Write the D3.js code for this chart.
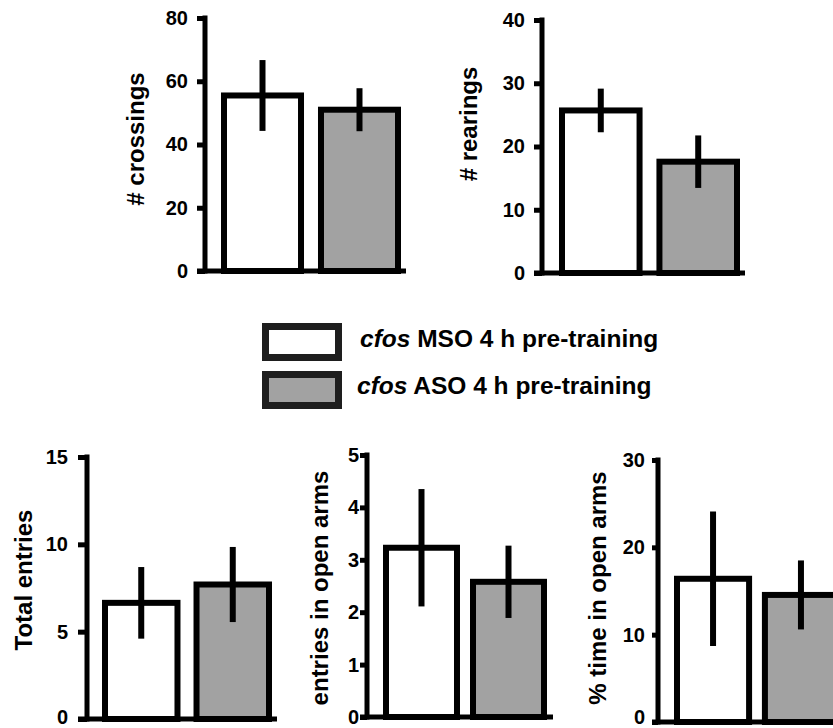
<!DOCTYPE html>
<html>
<head>
<meta charset="utf-8">
<script src="https://cdn.jsdelivr.net/npm/d3@7"></script>
<style>
  html, body { margin: 0; padding: 0; background: #fff; }
  svg { display: block; }
  text { font-family: "Liberation Sans", Arial, Helvetica, sans-serif; font-weight: bold; fill: #000; }
</style>
</head>
<body>
<svg id="chart" width="833" height="728"></svg>
<script>
// ---------------- data ----------------
const groups = ["cfos MSO 4 h pre-training", "cfos ASO 4 h pre-training"];
const groupPrefix = ["cfos", "cfos"];
const groupRest = [" MSO 4 h pre-training", " ASO 4 h pre-training"];
const groupFill = ["#ffffff", "#a2a2a2"];

const crossingsMean = [55.5, 51.0];
const crossingsSem  = [11.2, 6.8];
const crossingsTicks = [0, 20, 40, 60, 80];

const rearingsMean = [25.7, 17.6];
const rearingsSem  = [3.45, 4.15];
const rearingsTicks = [0, 10, 20, 30, 40];

const totalEntriesMean = [6.65, 7.7];
const totalEntriesSem  = [2.05, 2.15];
const totalEntriesTicks = [0, 5, 10, 15];

const openEntriesMean = [3.23, 2.58];
const openEntriesSem  = [1.12, 0.69];
const openEntriesTicks = [0, 1, 2, 3, 4, 5];

const openTimeMean = [16.4, 14.55];
const openTimeSem  = [7.7, 3.95];
const openTimeTicks = [0, 10, 20, 30];

// ---------------- layout ----------------
const panels = [
  { mean: crossingsMean, sem: crossingsSem, ticks: crossingsTicks, label: "# crossings",
    axisX: 205, y0: 271, yTop: 18, barRange: [224, 398], pad: 0.206, xEnd: 406,
    labelPos: [136, 139], tickOff: 17, tickLen: 8, bottom: false },
  { mean: rearingsMean, sem: rearingsSem, ticks: rearingsTicks, label: "# rearings",
    axisX: 542, y0: 273, yTop: 20, barRange: [562, 737], pad: 0.204, xEnd: 745,
    labelPos: [469, 124], tickOff: 17, tickLen: 8, bottom: false },
  { mean: totalEntriesMean, sem: totalEntriesSem, ticks: totalEntriesTicks, label: "Total entries",
    axisX: 87, y0: 719, yTop: 457, barRange: [105, 269], pad: 0.208, xEnd: 277,
    labelPos: [24, 580], tickOff: 19, tickLen: 9, bottom: true },
  { mean: openEntriesMean, sem: openEntriesSem, ticks: openEntriesTicks, label: "entries in open arms",
    axisX: 367, y0: 717, yTop: 455, barRange: [386, 544], pad: 0.184, xEnd: 553,
    labelPos: [320, 588], tickOff: 8, tickLen: 7, bottom: true },
  { mean: openTimeMean, sem: openTimeSem, ticks: openTimeTicks, label: "% time in open arms",
    axisX: 658, y0: 722, yTop: 460, barRange: [677, 837], pad: 0.18, xEnd: 850,
    labelPos: [598, 588], tickOff: 13, tickLen: 6, bottom: true }
];

const svg = d3.select("#chart");

panels.forEach(p => {
  const maxV = p.ticks[p.ticks.length - 1];
  const y = d3.scaleLinear().domain([0, maxV]).range([p.y0, p.yTop]);
  const x = d3.scaleBand().domain(groups).range(p.barRange).paddingInner(p.pad).paddingOuter(0);
  const g = svg.append("g");

  // bars
  g.selectAll("rect.bar").data(groups).join("rect")
    .attr("class", "bar")
    .attr("x", d => x(d))
    .attr("width", x.bandwidth())
    .attr("y", (d, i) => y(p.mean[i]))
    .attr("height", (d, i) => y(0) - y(p.mean[i]))
    .attr("fill", (d, i) => groupFill[i])
    .attr("stroke", "#000")
    .attr("stroke-width", 6);

  // error bars
  g.selectAll("line.err").data(groups).join("line")
    .attr("class", "err")
    .attr("x1", d => x(d) + x.bandwidth() / 2)
    .attr("x2", d => x(d) + x.bandwidth() / 2)
    .attr("y1", (d, i) => y(p.mean[i] + p.sem[i]))
    .attr("y2", (d, i) => y(p.mean[i] - p.sem[i]))
    .attr("stroke", "#000")
    .attr("stroke-width", 6);

  // baseline
  g.append("line")
    .attr("x1", p.axisX - p.tickLen).attr("x2", p.xEnd)
    .attr("y1", y(0)).attr("y2", y(0))
    .attr("stroke", "#000").attr("stroke-width", 5);

  // y axis
  const axis = d3.axisLeft(y).tickValues(p.ticks).tickSizeOuter(0)
    .tickSize(p.tickLen).tickPadding(p.tickOff - p.tickLen).tickFormat(d3.format("d"));
  const ag = g.append("g").attr("transform", `translate(${p.axisX},0)`).call(axis);
  ag.select(".domain").attr("stroke", "#000").attr("stroke-width", 5)
    .attr("d", `M0,${y(0) + 2.5}V${y(maxV) - 2.5}`);
  ag.selectAll(".tick line").attr("stroke", "#000").attr("stroke-width", 5);
  ag.selectAll(".tick text")
    .style("font-size", "20px").style("font-weight", "bold")
    .style("font-family", '"Liberation Sans", Arial, sans-serif')
    .attr("fill", "#000")
    .attr("dy", d => (p.bottom && d === 0) ? `${Math.min(6.4, 723.4 - y(0))}px` : "0.32em");

  // y label
  g.append("text")
    .attr("transform", `translate(${p.labelPos[0]},${p.labelPos[1]}) rotate(-90)`)
    .attr("text-anchor", "middle")
    .attr("dy", "0.35em")
    .style("font-size", "24px")
    .text(p.label);
});

// ---------------- legend ----------------
const legendBoxes = [[265.5, 326.5], [265.5, 374.5]];
const legendText = [[360, 347], [357, 394]];
const lg = svg.append("g");
groups.forEach((gname, i) => {
  lg.append("rect")
    .attr("x", legendBoxes[i][0]).attr("y", legendBoxes[i][1])
    .attr("width", 73).attr("height", 31)
    .attr("fill", groupFill[i])
    .attr("stroke", "#1e1e1e").attr("stroke-width", 7);
  const t = lg.append("text")
    .attr("x", legendText[i][0]).attr("y", legendText[i][1])
    .style("font-size", "24.5px");
  t.append("tspan").style("font-style", "italic").text(groupPrefix[i]);
  t.append("tspan").text(groupRest[i]);
});
</script>
</body>
</html>
